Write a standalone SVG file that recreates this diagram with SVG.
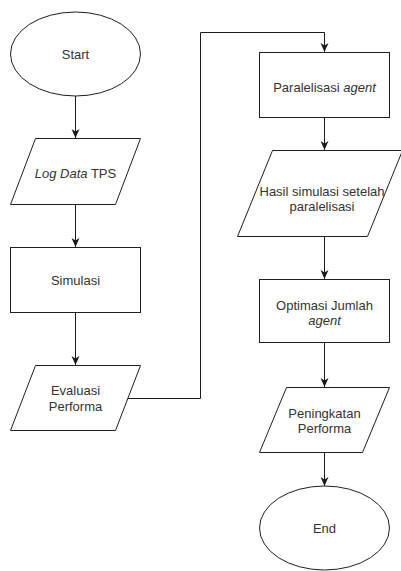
<svg xmlns="http://www.w3.org/2000/svg" width="401" height="571" viewBox="0 0 401 571">
  <defs>
    <marker id="arrow" markerUnits="userSpaceOnUse" markerWidth="10" markerHeight="9" refX="9" refY="4" orient="auto">
      <path d="M0,0 L9,4 L0,8 L2.5,4 z" fill="#1a1a1a"/>
    </marker>
    <style>
      .shape { fill: #ffffff; stroke: #1f1f1f; stroke-width: 1; }
      .edge { fill: none; stroke: #1a1a1a; stroke-width: 1; marker-end: url(#arrow); }
      .link { fill: none; stroke: #1a1a1a; stroke-width: 1; }
      text { font-family: "Liberation Sans", Arial, sans-serif; font-size: 13px; fill: #333333; text-anchor: middle; }
      .it { font-style: italic; }
    </style>
  </defs>
  <rect width="401" height="571" fill="#ffffff"/>

  <!-- connectors -->
  <g id="connectors">
    <path class="edge" d="M75.5,96 V138"/>
    <path class="edge" d="M75.5,204 V247"/>
    <path class="edge" d="M75.5,312 V365"/>
    <path class="edge" d="M127,398.5 H200.5 V32.5 H324.5 V52"/>
    <path class="edge" d="M324.5,117 V150"/>
    <path class="edge" d="M324.5,236 V279"/>
    <path class="edge" d="M324.5,342 V387"/>
    <path class="edge" d="M324.5,452 V486"/>
  </g>

  <!-- left column -->
  <g id="start">
    <ellipse class="shape" cx="75.5" cy="54" rx="65" ry="42"/>
    <text x="75.5" y="58.5">Start</text>
  </g>
  <g id="log-data">
    <polygon class="shape" points="35.5,138.5 140.5,138.5 115.5,204.5 10.5,204.5"/>
    <text x="75.5" y="177.5"><tspan class="it">Log Data</tspan> TPS</text>
  </g>
  <g id="simulasi">
    <rect class="shape" x="10.5" y="247.5" width="130" height="65"/>
    <text x="75.5" y="284.5">Simulasi</text>
  </g>
  <g id="evaluasi">
    <polygon class="shape" points="35.5,365.5 140.5,365.5 115.5,430.5 10.5,430.5"/>
    <text x="75.5" y="395">Evaluasi</text>
    <text x="75.5" y="410.5">Performa</text>
  </g>

  <!-- right column -->
  <g id="paralelisasi">
    <rect class="shape" x="259.5" y="52.5" width="130" height="65"/>
    <text x="324.5" y="91.5">Paralelisasi <tspan class="it">agent</tspan></text>
  </g>
  <g id="hasil">
    <polygon class="shape" points="272.5,150.5 402.5,150.5 367.5,236.5 237.5,236.5"/>
    <text x="322" y="196">Hasil simulasi setelah</text>
    <text x="322" y="211">paralelisasi</text>
  </g>
  <g id="optimasi">
    <rect class="shape" x="259.5" y="279.5" width="130" height="63"/>
    <text x="324.5" y="309.5">Optimasi Jumlah</text>
    <text x="324.5" y="324.5" class="it">agent</text>
  </g>
  <g id="peningkatan">
    <polygon class="shape" points="286.5,387.5 389.5,387.5 362.5,452.5 259.5,452.5"/>
    <text x="324.5" y="417.5">Peningkatan</text>
    <text x="324.5" y="432.5">Performa</text>
  </g>
  <g id="end">
    <ellipse class="shape" cx="324.5" cy="528" rx="65" ry="42"/>
    <text x="324.5" y="532.5">End</text>
  </g>
</svg>
